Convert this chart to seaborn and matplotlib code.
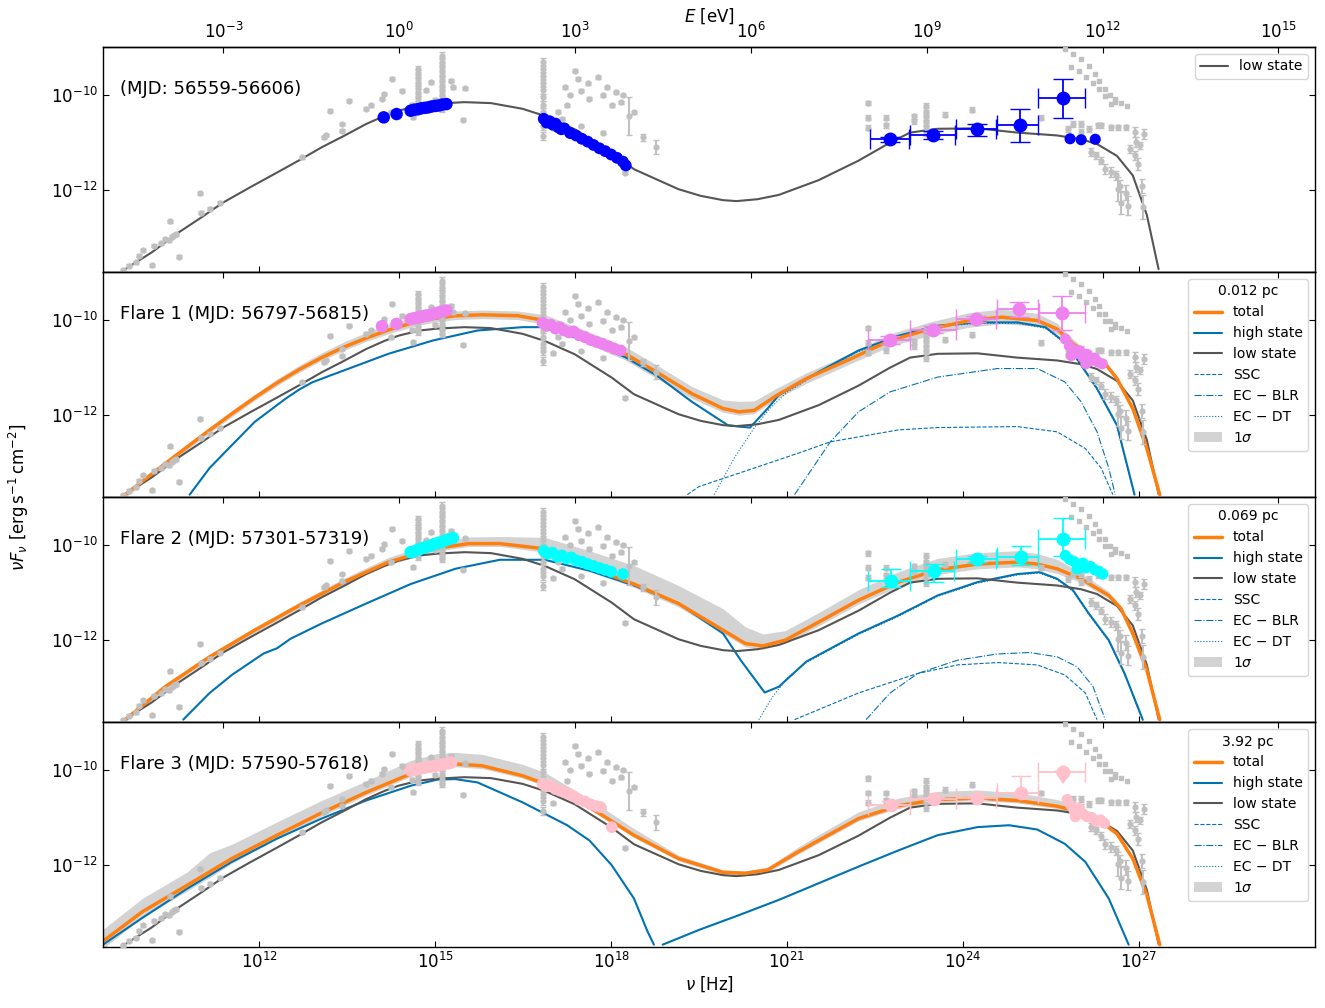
import numpy as np
import seaborn as sns
import matplotlib.pyplot as plt
from matplotlib.lines import Line2D
from matplotlib.patches import Patch
from matplotlib.ticker import NullLocator

# ---- model curves (log10 nu [Hz], log10 nuFnu [erg/s/cm2]) ----
low_x = [9.71, 10.16, 10.62, 11.00, 11.38, 11.84, 12.30, 12.68, 13.06, 13.44, 13.82, 14.13, 14.37,
         14.73, 15.04, 15.50, 15.95, 16.49, 16.87, 17.38, 18.01, 18.39, 18.77, 19.15, 19.53, 19.91,
         20.14, 20.50, 20.86, 21.54, 22.22, 22.76, 23.10, 23.57, 24.25, 24.93, 25.61, 26.02, 26.29,
         26.63, 26.90, 27.14, 27.34]
low_y = [-13.66, -13.31, -12.89, -12.58, -12.26, -11.94, -11.63, -11.37, -11.10, -10.86, -10.61,
         -10.44, -10.33, -10.22, -10.18, -10.15, -10.17, -10.29, -10.44, -10.72, -11.21, -11.56,
         -11.77, -11.98, -12.12, -12.21, -12.23, -12.19, -12.10, -11.79, -11.38, -11.00, -10.79,
         -10.71, -10.70, -10.79, -10.85, -10.93, -11.03, -11.28, -11.69, -12.52, -13.66]

# Flare 1
tot1_x = [9.71, 10.39, 11.00, 11.53, 11.92, 12.30, 12.68, 13.06, 13.44, 13.82, 14.20, 14.58, 14.96,
          15.34, 15.80, 16.41, 16.87, 17.63, 18.24, 18.77, 19.38, 19.91, 20.18, 20.44, 20.83, 21.33,
          22.08, 22.76, 23.44, 24.12, 24.66, 25.27, 25.61, 25.88, 26.09, 26.43, 26.63, 26.90, 27.14,
          27.36]
tot1_y = [-13.67, -13.02, -12.45, -11.97, -11.63, -11.32, -11.04, -10.79, -10.57, -10.38, -10.21,
          -10.07, -9.97, -9.91, -9.89, -9.91, -10.01, -10.40, -10.71, -11.09, -11.55, -11.86, -11.93,
          -11.90, -11.58, -11.23, -10.82, -10.43, -10.19, -10.01, -9.94, -10.01, -10.19, -10.50,
          -10.68, -10.92, -11.23, -11.86, -12.70, -13.67]
band1_up = [0.06, 0.06, 0.06, 0.07, 0.07, 0.08, 0.09, 0.10, 0.11, 0.12, 0.12, 0.12, 0.11, 0.10, 0.10,
            0.10, 0.12, 0.15, 0.15, 0.15, 0.15, 0.18, 0.22, 0.20, 0.15, 0.12, 0.12, 0.14, 0.15, 0.17,
            0.17, 0.15, 0.12, 0.10, 0.06, 0.05, 0.05, 0.04, 0.03, 0.03]
band1_dn = [0.06, 0.06, 0.06, 0.06, 0.06, 0.06, 0.06, 0.06, 0.07, 0.07, 0.08, 0.08, 0.08, 0.08, 0.08,
            0.08, 0.08, 0.12, 0.13, 0.13, 0.10, 0.08, 0.07, 0.07, 0.07, 0.10, 0.10, 0.12, 0.13, 0.14,
            0.14, 0.12, 0.10, 0.08, 0.06, 0.05, 0.05, 0.04, 0.03, 0.03]
high1_x = [10.81, 11.15, 11.53, 11.92, 12.45, 12.68, 12.90, 13.20, 13.44, 14.20, 14.96, 15.72, 16.49,
           16.87, 17.63, 18.24, 18.77, 19.38, 19.99, 20.18, 20.37, 20.67, 20.86, 21.54, 22.22, 22.90,
           23.57, 24.25, 24.93, 25.41, 25.74, 25.95, 26.29, 26.63, 26.93]
high1_y = [-13.67, -13.11, -12.63, -12.14, -11.65, -11.46, -11.31, -11.17, -11.06, -10.71, -10.43,
           -10.22, -10.15, -10.15, -10.47, -10.78, -11.16, -11.72, -12.21, -12.24, -12.26, -11.86,
           -11.58, -11.09, -10.64, -10.33, -10.12, -10.05, -10.05, -10.15, -10.47, -10.82, -11.44,
           -12.21, -13.67]
ssc1_x = [19.30, 19.50, 20.18, 21.19, 21.74, 22.90, 23.57, 24.93, 25.61, 26.09, 26.36, 26.56]
ssc1_y = [-13.67, -13.50, -13.22, -12.80, -12.56, -12.31, -12.26, -12.24, -12.35, -12.70, -13.11, -13.67]
blr1_x = [21.13, 21.74, 22.22, 22.76, 23.57, 24.59, 25.27, 25.74, 26.02, 26.29, 26.49, 26.60]
blr1_y = [-13.67, -12.56, -11.93, -11.51, -11.20, -11.02, -11.02, -11.30, -11.72, -12.35, -13.11, -13.67]
dt1_x = [19.76, 20.10, 20.45, 20.70, 21.00, 21.54, 22.22, 22.90, 23.57, 24.25, 24.93, 25.41, 25.74,
         25.95, 26.29, 26.63, 26.93]
dt1_y = [-13.67, -12.90, -12.25, -11.87, -11.52, -11.11, -10.66, -10.35, -10.14, -10.07, -10.07,
         -10.17, -10.49, -10.84, -11.46, -12.23, -13.69]

# Flare 2
tot2_x = [9.71, 10.39, 11.15, 11.92, 12.68, 13.44, 14.20, 14.96, 15.57, 16.10, 16.87, 17.63, 18.39,
          19.15, 19.91, 20.29, 20.59, 20.97, 21.54, 22.22, 22.90, 23.57, 24.25, 24.93, 25.27, 25.61,
          26.02, 26.49, 26.70, 26.90, 27.14, 27.36]
tot2_y = [-13.67, -12.98, -12.35, -11.79, -11.27, -10.78, -10.36, -10.08, -9.97, -9.97, -10.08,
          -10.47, -10.82, -11.23, -11.79, -12.07, -12.12, -12.00, -11.62, -11.16, -10.78, -10.52,
          -10.40, -10.36, -10.40, -10.50, -10.71, -11.06, -11.34, -11.86, -12.63, -13.67]
band2_up = [0.05, 0.05, 0.05, 0.06, 0.07, 0.08, 0.10, 0.12, 0.14, 0.15, 0.24, 0.35, 0.39, 0.38, 0.45,
            0.35, 0.25, 0.20, 0.20, 0.22, 0.22, 0.24, 0.24, 0.24, 0.22, 0.20, 0.12, 0.08, 0.06, 0.05,
            0.04, 0.03]
band2_dn = [0.05, 0.05, 0.05, 0.05, 0.05, 0.05, 0.06, 0.06, 0.06, 0.06, 0.07, 0.07, 0.07, 0.07, 0.07,
            0.07, 0.07, 0.07, 0.08, 0.08, 0.10, 0.10, 0.10, 0.10, 0.10, 0.10, 0.08, 0.06, 0.05, 0.05,
            0.04, 0.03]
high2_x = [10.70, 11.15, 11.53, 12.07, 12.30, 12.53, 13.06, 13.82, 14.58, 15.34, 16.10, 16.87, 17.63,
           18.39, 19.15, 19.91, 20.21, 20.62, 20.86, 21.33, 22.22, 22.90, 23.57, 24.25, 24.93, 25.31,
           25.61, 25.88, 26.15, 26.49, 26.76, 27.07]
high2_y = [-13.67, -13.11, -12.73, -12.28, -12.17, -11.97, -11.65, -11.23, -10.82, -10.50, -10.31,
           -10.31, -10.54, -10.85, -11.23, -11.86, -12.42, -13.10, -12.98, -12.45, -11.86, -11.48,
           -11.06, -10.78, -10.61, -10.57, -10.71, -10.95, -11.44, -12.00, -12.70, -13.67]
ssc2_x = [21.13, 22.22, 23.23, 23.91, 24.59, 25.27, 25.74, 26.09, 26.29]
ssc2_y = [-13.67, -13.11, -12.70, -12.52, -12.47, -12.52, -12.73, -13.11, -13.67]
blr2_x = [22.35, 22.76, 23.23, 23.91, 24.59, 25.14, 25.61, 25.95, 26.22, 26.43]
blr2_y = [-13.67, -13.11, -12.70, -12.42, -12.29, -12.26, -12.35, -12.56, -12.97, -13.67]
dt2_x = [20.52, 20.75, 21.00, 21.33, 22.22, 22.90, 23.57, 24.25, 24.93, 25.31, 25.61, 25.88, 26.15,
         26.49, 26.76, 27.07]
dt2_y = [-13.67, -13.20, -12.80, -12.47, -11.88, -11.50, -11.08, -10.80, -10.63, -10.59, -10.73,
         -10.97, -11.46, -12.02, -12.72, -13.69]

# Flare 3
tot3_x = [9.33, 10.0, 10.77, 11.15, 11.53, 12.30, 13.06, 13.82, 14.58, 15.04, 15.34, 15.80, 16.49,
          16.87, 17.63, 18.39, 19.15, 19.91, 20.29, 20.67, 21.19, 21.54, 22.22, 22.90, 23.57, 24.25,
          24.93, 25.61, 26.02, 26.29, 26.63, 26.90, 27.14, 27.36]
tot3_y = [-13.60, -12.98, -12.42, -12.14, -11.86, -11.37, -10.90, -10.47, -10.08, -9.91, -9.87, -9.91,
          -10.12, -10.29, -10.78, -11.37, -11.86, -12.15, -12.17, -12.10, -11.72, -11.48, -11.02,
          -10.75, -10.62, -10.59, -10.64, -10.76, -10.89, -11.02, -11.34, -11.86, -12.63, -13.67]
band3_up = [0.25, 0.28, 0.28, 0.40, 0.30, 0.28, 0.26, 0.24, 0.28, 0.26, 0.24, 0.24, 0.24, 0.24, 0.17,
            0.14, 0.07, 0.05, 0.05, 0.06, 0.10, 0.12, 0.14, 0.16, 0.17, 0.17, 0.16, 0.14, 0.10, 0.07,
            0.05, 0.04, 0.03, 0.03]
band3_dn = [0.15, 0.12, 0.12, 0.12, 0.10, 0.08, 0.07, 0.06, 0.06, 0.06, 0.06, 0.06, 0.05, 0.05, 0.05,
            0.05, 0.05, 0.05, 0.05, 0.05, 0.05, 0.05, 0.05, 0.05, 0.05, 0.05, 0.05, 0.05, 0.05, 0.05,
            0.04, 0.04, 0.03, 0.03]
high3_x = [9.33, 10.0, 10.77, 11.53, 12.30, 13.06, 13.82, 14.58, 15.04, 15.34, 15.72, 16.49, 17.25,
           17.63, 18.01, 18.39, 18.62, 18.73]
high3_y = [-13.67, -13.11, -12.49, -11.93, -11.44, -11.02, -10.64, -10.33, -10.20, -10.19, -10.26,
           -10.68, -11.16, -11.48, -12.00, -12.70, -13.39, -13.67]
high3b_x = [18.88, 19.50, 20.18, 20.86, 21.54, 22.22, 22.90, 23.57, 24.25, 24.79, 25.27, 25.74, 26.09,
            26.49, 26.83]
high3b_y = [-13.67, -13.36, -13.05, -12.73, -12.38, -12.03, -11.69, -11.37, -11.20, -11.16, -11.25,
            -11.55, -11.93, -12.70, -13.67]

# ---- archival data (grey), same in every panel ----
arch_x = [9.67, 9.78, 9.90, 9.94, 10.01, 10.16, 10.20, 10.32, 10.39, 10.45, 10.51, 10.55, 10.58, 10.47,
          10.62, 11.00, 11.15, 11.32, 10.99, 12.72, 13.10, 13.13, 13.40, 13.40, 13.21, 13.52, 13.82,
          13.90, 14.09, 14.13, 14.26, 14.43, 14.24,
          14.70, 14.70, 14.70, 14.70, 14.70, 14.70, 14.70, 14.70, 14.70,
          15.12, 15.12, 15.12, 15.12, 15.12, 15.12, 15.12, 15.12, 15.12, 15.12, 15.12, 15.12,
          14.92, 15.27, 15.31, 15.50, 15.48, 14.62, 14.85, 14.60, 15.00,
          16.83, 16.83, 16.83, 16.83, 16.83, 16.83, 16.83, 16.83, 16.83, 16.83, 16.83,
          17.21, 17.25, 17.38, 17.44, 17.48, 17.63, 17.77, 17.86, 17.93, 18.09, 18.01, 18.16, 18.31,
          18.39, 18.54, 18.77, 18.24, 17.17, 17.48, 17.86, 17.30, 17.60, 18.20, 17.10, 17.00,
          22.39, 22.39, 22.39, 22.69, 22.69, 23.17, 23.17, 23.37, 23.37, 23.37, 23.37, 23.37, 23.37,
          23.70, 24.15, 25.34,
          25.80, 25.88, 26.02, 26.16, 26.31, 26.36, 26.02, 26.19, 26.28, 26.36, 26.42, 26.53, 26.62,
          26.68, 26.79, 26.82, 26.53, 26.65, 26.79, 26.93, 26.96, 27.02, 27.10, 26.85, 26.93, 26.99,
          27.05, 27.07, 26.65, 26.70]
arch_y = [-13.68, -13.59, -13.52, -13.38, -13.26, -13.58, -13.17, -13.12, -13.03, -13.05, -12.98, -12.95,
          -12.93, -12.65, -13.40, -12.47, -12.39, -12.26, -12.07, -11.31, -10.89, -10.84, -10.75, -10.61,
          -10.33, -10.12, -10.29, -10.22, -10.08, -9.98, -9.66, -9.91, -10.36,
          -9.45, -9.55, -9.65, -9.75, -9.85, -9.95, -10.05, -10.15, -10.25,
          -9.17, -9.30, -9.40, -9.50, -9.60, -9.70, -9.80, -9.90, -10.00, -10.10, -10.20, -10.29,
          -9.73, -9.70, -9.84, -9.86, -10.52, -10.47, -9.90, -10.20, -10.10,
          -9.31, -9.45, -9.60, -9.75, -9.90, -10.05, -10.20, -10.35, -10.50, -10.65, -10.86,
          -9.84, -10.22, -9.49, -9.66, -9.91, -10.08, -9.63, -10.01, -9.84, -9.94, -10.22, -10.15, -10.44,
          -10.36, -10.89, -11.10, -11.63, -10.50, -10.65, -10.79, -10.00, -9.75, -10.00, -10.35, -10.70,
          -10.17, -10.48, -10.69, -10.48, -10.64, -10.45, -10.55, -10.24, -10.35, -10.45, -10.55, -10.65,
          -10.79, -10.41, -10.31, -10.48,
          -10.71, -10.61, -10.61, -10.71, -10.64, -10.64, -10.78, -11.20, -11.27, -11.38, -11.55, -11.62,
          -11.69, -11.91, -12.05, -12.33, -10.68, -10.68, -10.68, -10.78, -10.99, -11.06, -10.82, -11.13,
          -11.27, -11.45, -11.91, -12.36, -11.98, -12.26]
arch_err = [0.03] * 33 + [0.07] * 21 + [0.03] * 9 + [0.08] * 11 + \
           [0.03] * 12 + [0.40, 0.03, 0.08, 0.15] + [0.03] * 9 + \
           [0.05] * 7 + [0.07] * 6 + [0.05] * 3 + \
           [0.06, 0.06, 0.06, 0.06, 0.06, 0.06, 0.06, 0.08, 0.08, 0.08, 0.10, 0.10, 0.10, 0.12, 0.15, 0.20,
            0.06, 0.06, 0.06, 0.10, 0.10, 0.08, 0.10, 0.08, 0.10, 0.12, 0.15, 0.25, 0.25, 0.25]
# grey dotted arcs near the VHE end
arc_x = [25.74, 25.88, 26.02, 26.15, 26.25, 26.33, 26.42, 26.51, 26.59,
         25.85, 25.98, 26.11, 26.22, 26.32, 26.42, 26.53, 26.60, 26.70, 26.80]
arc_y = [-9.03, -9.13, -9.24, -9.38, -9.55, -9.70, -9.87, -10.01, -10.15,
         -9.41, -9.50, -9.62, -9.74, -9.88, -10.03, -10.19, -10.09, -10.16, -10.24]

# ---- state data: optical/UV and X-ray ----
opt0_x = [14.12, 14.34, 14.58, 14.64, 14.70, 14.76, 14.82, 14.88, 14.94, 15.00, 15.06, 15.12, 15.19]
opt0_y = [-10.47, -10.40, -10.33, -10.31, -10.30, -10.28, -10.27, -10.26, -10.24, -10.23, -10.22, -10.20, -10.19]
xr0_x = [16.85, 16.90, 16.95, 17.00, 17.05, 17.10, 17.15, 17.20, 17.30, 17.40, 17.50, 17.60, 17.70, 17.80,
         17.90, 18.00, 18.10, 18.20, 18.25]
xr0_y = [-10.50, -10.58, -10.55, -10.62, -10.60, -10.68, -10.72, -10.70, -10.80, -10.85, -10.92, -10.98,
         -11.05, -11.12, -11.18, -11.25, -11.32, -11.40, -11.48]
opt1_x = [14.09, 14.34, 14.58, 14.64, 14.70, 14.76, 14.82, 14.88, 14.94, 15.00, 15.06, 15.12, 15.19]
opt1_y = [-10.13, -10.08, -9.98, -9.96, -9.95, -9.93, -9.91, -9.90, -9.88, -9.86, -9.84, -9.82, -9.80]
xr1_x = [16.83, 16.90, 16.97, 17.05, 17.12, 17.20, 17.28, 17.36, 17.45, 17.55, 17.65, 17.75, 17.85, 17.95,
         18.05, 18.16]
xr1_y = [-10.06, -10.12, -10.10, -10.18, -10.15, -10.22, -10.26, -10.24, -10.32, -10.36, -10.42, -10.46,
         -10.50, -10.55, -10.60, -10.64]
opt2_x = [14.58, 14.66, 14.74, 14.82, 14.90, 14.98, 15.06, 15.14, 15.22, 15.30]
opt2_y = [-10.15, -10.12, -10.08, -10.05, -10.02, -9.98, -9.95, -9.92, -9.88, -9.85]
xr2_x = [16.85, 16.92, 17.00, 17.08, 17.16, 17.24, 17.32, 17.40, 17.50, 17.60, 17.70, 17.80, 17.90, 18.00, 18.20]
xr2_y = [-10.12, -10.18, -10.16, -10.24, -10.22, -10.28, -10.26, -10.32, -10.35, -10.40, -10.44, -10.48,
         -10.52, -10.56, -10.61]
opt3_x = [14.58, 14.66, 14.74, 14.82, 14.90, 14.98, 15.06, 15.14, 15.22, 15.27]
opt3_y = [-10.01, -9.99, -9.97, -9.95, -9.93, -9.92, -9.90, -9.88, -9.86, -9.84]
xr3_x = [16.83, 16.90, 16.97, 17.05, 17.12, 17.20, 17.28, 17.36, 17.45, 17.55, 17.65, 17.75, 17.82, 18.01]
xr3_y = [-10.29, -10.34, -10.32, -10.40, -10.43, -10.46, -10.50, -10.55, -10.62, -10.66, -10.72, -10.76,
         -10.78, -11.20]

# ---- Fermi-LAT bins ----
lat0_x = [22.76, 23.49, 24.25, 24.98, 25.71]
lat0_y = [-10.93, -10.83, -10.72, -10.64, -10.07]
lat0_xlo = [22.41, 23.10, 23.88, 24.58, 25.29]
lat0_xhi = [23.08, 23.86, 24.56, 25.29, 26.09]
lat0_ylo = [-10.98, -10.92, -10.86, -10.99, -10.48]
lat0_yhi = [-10.88, -10.76, -10.60, -10.30, -9.66]
lat1_x = [22.76, 23.49, 24.23, 24.96, 25.70]
lat1_y = [-10.42, -10.20, -9.98, -9.77, -9.85]
lat1_xlo = [22.39, 23.10, 23.88, 24.58, 25.30]
lat1_xhi = [23.10, 23.88, 24.56, 25.29, 26.09]
lat1_ylo = [-10.50, -10.27, -10.04, -9.94, -10.22]
lat1_yhi = [-10.34, -10.13, -9.92, -9.62, -9.49]
lat2_x = [22.78, 23.51, 24.24, 24.99, 25.71]
lat2_y = [-10.75, -10.55, -10.29, -10.26, -9.87]
lat2_xlo = [22.39, 23.10, 23.88, 24.59, 25.29]
lat2_xhi = [23.10, 23.85, 24.56, 25.29, 26.09]
lat2_ylo = [-10.88, -10.78, -10.36, -10.43, -10.22]
lat2_yhi = [-10.50, -10.40, -10.22, -10.01, -9.44]
lat3_x = [22.78, 23.51, 24.25, 24.99]
lat3_y = [-10.73, -10.61, -10.59, -10.48]
lat3_xlo = [22.39, 23.10, 23.88, 24.59]
lat3_xhi = [23.10, 23.88, 24.56, 25.29]
lat3_ylo = [-10.80, -10.66, -10.64, -10.55]
lat3_yhi = [-10.66, -10.56, -10.54, -10.13]
ul3_x, ul3_y, ul3_xlo, ul3_xhi, ul3_ylo = 25.71, -10.05, 25.29, 26.09, -10.36

# ---- VHE points ----
vhe0_x = [25.83, 26.02, 26.26]
vhe0_y = [-10.92, -10.94, -10.93]
vhe1_x = [25.75, 25.82, 25.85, 25.88, 25.95, 26.00, 26.05, 26.10, 26.12, 26.18, 26.25, 26.30, 26.38]
vhe1_y = [-10.40, -10.55, -10.75, -10.62, -10.70, -10.65, -10.78, -10.92, -10.72, -10.85, -10.80, -10.88, -10.92]
vhe2_x = [25.75, 25.82, 25.90, 25.95, 25.98, 26.05, 26.10, 26.18, 26.25, 26.32, 26.39]
vhe2_y = [-10.22, -10.30, -10.35, -10.50, -10.42, -10.38, -10.48, -10.45, -10.52, -10.55, -10.61]
vhe3_x = [25.78, 25.85, 25.90, 25.92, 25.98, 26.05, 26.12, 26.20, 26.28, 26.35, 26.42]
vhe3_y = [-10.62, -10.75, -10.85, -10.98, -10.80, -10.92, -10.98, -11.00, -11.08, -11.05, -11.12]

labels = ['(MJD: 56559-56606)', 'Flare 1 (MJD: 56797-56815)',
          'Flare 2 (MJD: 57301-57319)', 'Flare 3 (MJD: 57590-57618)']
distances = [None, '0.012 pc', '0.069 pc', '3.92 pc']
state_colors = ['blue', 'violet', 'cyan', 'pink']

C_TOT = '#ff7f0e'
C_HIGH = '#0072b2'
C_LOW = '#555555'
C_ARCH = '#c0c0c0'
H_EV = 4.135667e-15

sns.set_style('ticks', {'xtick.direction': 'in', 'ytick.direction': 'in',
                        'axes.edgecolor': 'black', 'text.color': 'black',
                        'xtick.color': 'black', 'ytick.color': 'black',
                        'axes.labelcolor': 'black'})
plt.rcParams['font.family'] = ['DejaVu Sans']
plt.rcParams['axes.linewidth'] = 1.0


def lin(a):
    return 10 ** np.asarray(a, dtype=float)


def curve(ax, x, y, **kw):
    sns.lineplot(x=lin(x), y=lin(y), ax=ax, sort=False, estimator=None, **kw)


def band(ax, x, y, up, dn):
    x, y = np.asarray(x), np.asarray(y)
    ax.fill_between(lin(x), lin(y - np.asarray(dn)), lin(y + np.asarray(up)),
                    color='lightgrey', lw=0, zorder=1)


def state_points(ax, ox, oy, xx, xy, lx, ly, lxlo, lxhi, lylo, lyhi, vx, vy, col):
    for px, py, ey, ex, ms in [(ox, oy, 0.06, 0.04, 9), (xx, xy, 0.09, 0.04, 8.5), (vx, vy, 0.08, 0.03, 8)]:
        px, py = np.asarray(px), np.asarray(py)
        ax.errorbar(lin(px), lin(py), xerr=[lin(px) - lin(px - ex), lin(px + ex) - lin(px)],
                    yerr=[lin(py) - lin(py - ey), lin(py + ey) - lin(py)],
                    fmt='none', ecolor=col, elinewidth=1.3, zorder=5)
        sns.scatterplot(x=lin(px), y=lin(py), ax=ax, color=col, s=ms ** 2, edgecolor='none',
                        zorder=6, legend=False)
    lx, ly = np.asarray(lx), np.asarray(ly)
    ax.errorbar(lin(lx), lin(ly), xerr=[lin(lx) - lin(lxlo), lin(lxhi) - lin(lx)],
                yerr=[lin(ly) - lin(lylo), lin(lyhi) - lin(ly)],
                fmt='o', ms=9, color=col, ecolor=col, elinewidth=1.3, capsize=7, zorder=6)


fig, axes = plt.subplots(4, 1, figsize=(13.25, 10.08), sharex=True)
plt.subplots_adjust(left=0.0777, right=0.9925, top=0.9534, bottom=0.0605, hspace=0)

ax_x = np.asarray(arch_x)
ax_y = np.asarray(arch_y)
ax_e = np.asarray(arch_err)

for i, ax in enumerate(axes):
    ax.set_xscale('log')
    ax.set_yscale('log')

    if i == 1:
        band(ax, tot1_x, tot1_y, band1_up, band1_dn)
        curve(ax, ssc1_x, ssc1_y, color=C_HIGH, lw=0.8, linestyle='--')
        curve(ax, blr1_x, blr1_y, color=C_HIGH, lw=0.8, linestyle='-.')
        curve(ax, dt1_x, dt1_y, color=C_HIGH, lw=0.8, linestyle=':')
        curve(ax, high1_x, high1_y, color=C_HIGH, lw=1.5)
    elif i == 2:
        band(ax, tot2_x, tot2_y, band2_up, band2_dn)
        curve(ax, ssc2_x, ssc2_y, color=C_HIGH, lw=0.8, linestyle='--')
        curve(ax, blr2_x, blr2_y, color=C_HIGH, lw=0.8, linestyle='-.')
        curve(ax, dt2_x, dt2_y, color=C_HIGH, lw=0.8, linestyle=':')
        curve(ax, high2_x, high2_y, color=C_HIGH, lw=1.5)
    elif i == 3:
        band(ax, tot3_x, tot3_y, band3_up, band3_dn)
        curve(ax, high3_x, high3_y, color=C_HIGH, lw=1.5)
        curve(ax, high3b_x, high3b_y, color=C_HIGH, lw=1.5)

    curve(ax, low_x, low_y, color=C_LOW, lw=1.5)
    if i == 1:
        curve(ax, tot1_x, tot1_y, color=C_TOT, lw=2.5)
    elif i == 2:
        curve(ax, tot2_x, tot2_y, color=C_TOT, lw=2.5)
    elif i == 3:
        curve(ax, tot3_x, tot3_y, color=C_TOT, lw=2.5)

    # archival points
    ax.errorbar(lin(ax_x), lin(ax_y), yerr=[lin(ax_y) - lin(ax_y - ax_e), lin(ax_y + ax_e) - lin(ax_y)],
                fmt='o', ms=3.5, color=C_ARCH, ecolor=C_ARCH, elinewidth=1.5, capsize=2.5, zorder=4)
    ax.plot(lin(arc_x), lin(arc_y), ls='none', marker='s', ms=3.5, color=C_ARCH, zorder=4)

    if i == 0:
        state_points(ax, opt0_x, opt0_y, xr0_x, xr0_y, lat0_x, lat0_y, lat0_xlo, lat0_xhi,
                     lat0_ylo, lat0_yhi, vhe0_x, vhe0_y, state_colors[0])
    elif i == 1:
        state_points(ax, opt1_x, opt1_y, xr1_x, xr1_y, lat1_x, lat1_y, lat1_xlo, lat1_xhi,
                     lat1_ylo, lat1_yhi, vhe1_x, vhe1_y, state_colors[1])
    elif i == 2:
        state_points(ax, opt2_x, opt2_y, xr2_x, xr2_y, lat2_x, lat2_y, lat2_xlo, lat2_xhi,
                     lat2_ylo, lat2_yhi, vhe2_x, vhe2_y, state_colors[2])
    else:
        state_points(ax, opt3_x, opt3_y, xr3_x, xr3_y, lat3_x, lat3_y, lat3_xlo, lat3_xhi,
                     lat3_ylo, lat3_yhi, vhe3_x, vhe3_y, state_colors[3])
        ax.errorbar(lin([ul3_x]), lin([ul3_y]),
                    xerr=[lin([ul3_x]) - lin([ul3_xlo]), lin([ul3_xhi]) - lin([ul3_x])],
                    fmt='o', ms=9, color='pink', ecolor='pink', elinewidth=1.3, capsize=7, zorder=6)
        ax.annotate('', xy=(lin(ul3_x), lin(ul3_ylo)), xytext=(lin(ul3_x), lin(ul3_y)),
                    arrowprops=dict(arrowstyle='-|>,head_width=0.5,head_length=0.8', color='pink',
                                    lw=1.5), zorder=6)

    ax.text(0.014, 0.815, labels[i], transform=ax.transAxes, fontsize=13, va='center', ha='left')

    ax.set_xlim(lin(9.33), lin(30.01))
    ax.set_ylim(lin(-13.72), lin(-8.99))
    ax.set_xticks(lin([12, 15, 18, 21, 24, 27]))
    ax.set_yticks(lin([-12, -10]))
    ax.xaxis.set_minor_locator(NullLocator())
    ax.yaxis.set_minor_locator(NullLocator())
    ax.tick_params(axis='both', which='major', direction='in', labelsize=12,
                   top=False, right=True, length=4, colors='black')
    ax.set_ylabel('')

    sec = ax.secondary_xaxis('top', functions=(lambda v: v * H_EV, lambda e: e / H_EV))
    sec.set_xticks(lin([-3, 0, 3, 6, 9, 12, 15]))
    sec.xaxis.set_minor_locator(NullLocator())
    sec.tick_params(direction='in', labelsize=12, length=4, labeltop=(i == 0), colors='black')
    if i == 0:
        sec.set_xlabel(r'$E$ [eV]', fontsize=12, labelpad=0)

    if distances[i] is None:
        handles = [Line2D([], [], color=C_LOW, lw=1.5)]
        ax.legend(handles, ['low state'], loc='upper right', fontsize=10)
    else:
        handles = [Line2D([], [], color=C_TOT, lw=2.5),
                   Line2D([], [], color=C_HIGH, lw=1.5),
                   Line2D([], [], color=C_LOW, lw=1.5),
                   Line2D([], [], color=C_HIGH, lw=0.8, ls='--'),
                   Line2D([], [], color=C_HIGH, lw=0.8, ls='-.'),
                   Line2D([], [], color=C_HIGH, lw=0.8, ls=':'),
                   Patch(facecolor='lightgrey', edgecolor='none')]
        names = ['total', 'high state', 'low state', 'SSC', 'EC − BLR', 'EC − DT', r'1$\sigma$']
        ax.legend(handles, names, loc='upper right', fontsize=10, title=distances[i],
                  title_fontsize=10)

axes[-1].set_xlabel(r'$\nu$ [Hz]', fontsize=12, labelpad=2)
fig.text(0.014, 0.507, r'$\nu F_{\nu}$ [erg$\,$s$^{-1}\,$cm$^{-2}$]', rotation=90,
         va='center', ha='center', fontsize=12)

fig.savefig('out.png', dpi=100)
